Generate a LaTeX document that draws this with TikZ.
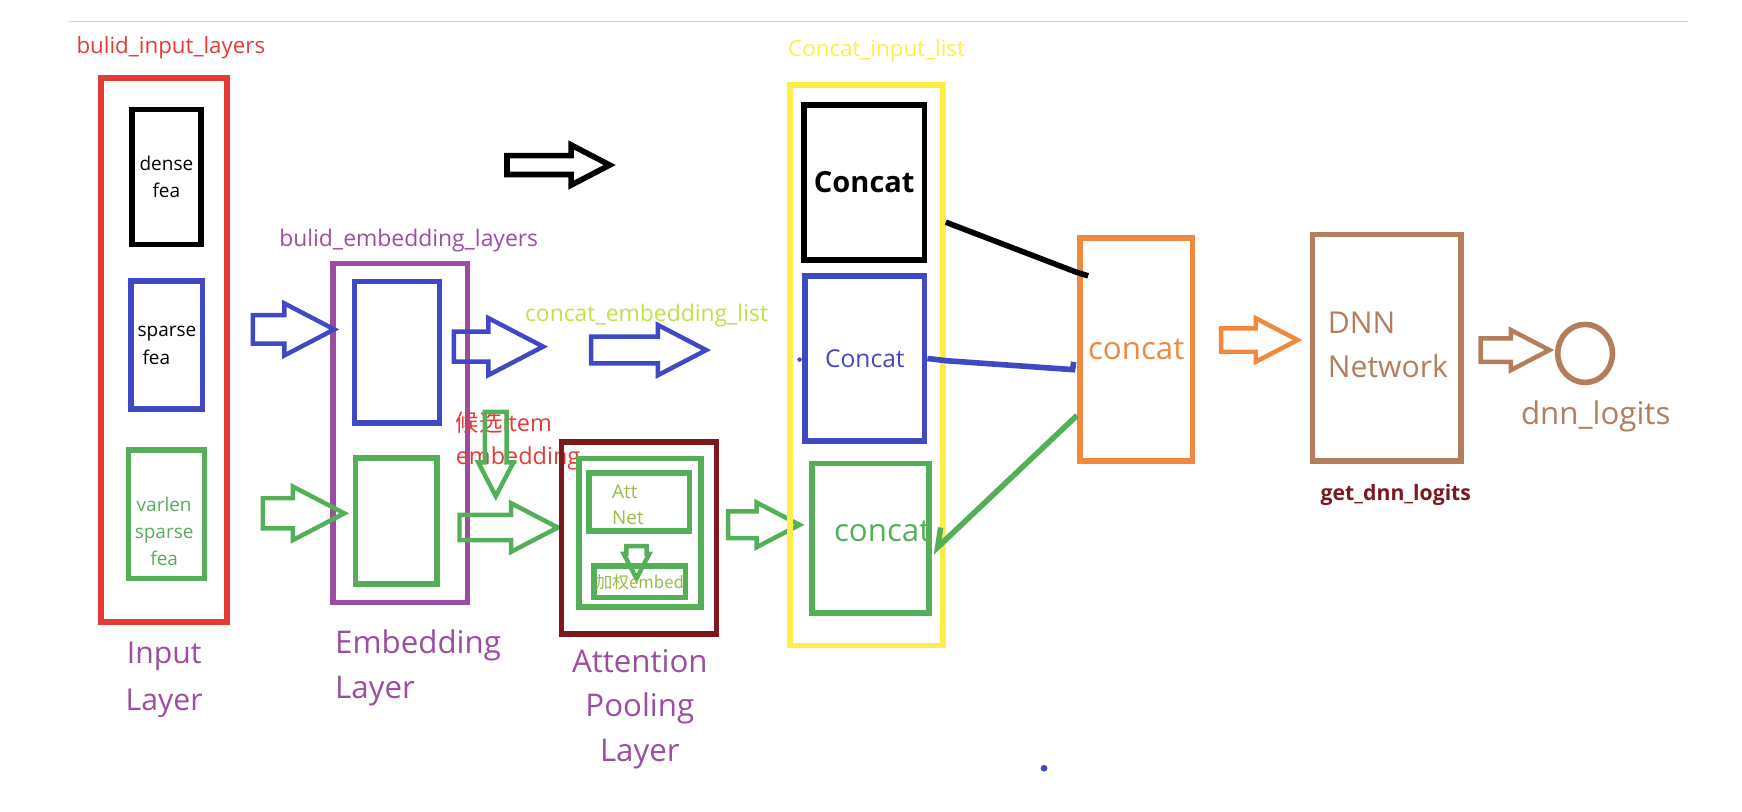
\documentclass[tikz,border=0pt]{standalone}
\usepackage{fontspec}
\setmainfont{Open Sans}
\newfontfamily\cjkfont{Noto Sans CJK SC}
\usetikzlibrary{shapes.arrows,shapes.geometric,arrows.meta}

\definecolor{inred}{RGB}{227,60,55}
\definecolor{inblue}{RGB}{64,72,196}
\definecolor{ingreen}{RGB}{84,176,88}
\definecolor{purp}{RGB}{155,78,160}
\definecolor{lime}{RGB}{190,226,70}
\definecolor{ylw}{RGB}{252,240,72}
\definecolor{dkred}{RGB}{124,24,30}
\definecolor{orng}{RGB}{240,136,62}
\definecolor{brwn}{RGB}{180,126,92}
\definecolor{attxt}{RGB}{150,190,70}
\definecolor{gline}{RGB}{206,212,228}

\begin{document}
\begin{tikzpicture}[x=1pt,y=-1pt,
  box/.style={draw=#1, line width=5pt, inner sep=0pt},
  hollow/.style={single arrow, draw=#1, line width=4pt, inner xsep=0pt, anchor=tail, single arrow tip angle=55},
  lbl/.style 2 args={inner sep=0pt, font=\fontsize{#1}{#2}\selectfont}]
\useasboundingbox (0,0) rectangle (1560,727);
\draw[gline, line width=1pt] (62,19) -- (1512,19);

% input layer
\node[lbl={20}{20}, text=inred] (tinl) at (153,43) {bulid\_input\_layers};
\node[box=inred, minimum width=113, minimum height=487] (inl) at (147,313.5) {};
\node[box=black, minimum width=62, minimum height=121, lbl={17}{24}, align=center] (dense) at (149,158.5) {dense\\fea};
\node[box=inblue, minimum width=64, minimum height=115, lbl={17}{25}, align=left] (sparse) at (149.5,309) {sparse\\\ fea};
\node[box=ingreen, minimum width=68, minimum height=115] (varlen) at (149,460.5) {};
\node[lbl={17}{24}, align=center, text=ingreen] (tvarlen) at (147,476) {varlen\\sparse\\fea};
\node[lbl={27}{42}, text=purp, align=center] (tinput) at (147,609) {Input\\Layer};

% embedding layer
\node[lbl={20.5}{20.5}, text=purp] (temb) at (366,215) {bulid\_embedding\_layers};
\node[box=purp, minimum width=120.5, minimum height=303.5] (emb) at (358.5,387.75) {};
\node[box=inblue, minimum width=76, minimum height=127] (embs) at (355.5,315.5) {};
\node[box=ingreen, minimum width=73, minimum height=113] (embv) at (355,466.5) {};
\node[lbl={28}{40}, text=purp, align=left, anchor=west] (tembl) at (300,598) {Embedding\\Layer};
\node[hollow=inblue, minimum height=73, inner ysep=10.75, single arrow head extend=10.5] (a1) at (224.4,295) {};
\node[hollow=ingreen, minimum height=73, inner ysep=11.5, single arrow head extend=10.5] (a2) at (233.3,459.7) {};
\node[hollow=inblue, minimum height=80, inner ysep=11.5, single arrow head extend=12] (a3) at (404.4,310.4) {};
\node[lbl={20.5}{20.5}, text=lime] (tcel) at (579,283) {concat\_embedding\_list};
\node[hollow=inblue, minimum height=103, inner ysep=10, single arrow head extend=10.5] (a4) at (527.4,313.5) {};
\node[hollow=black, line width=5pt, minimum height=92, inner ysep=6, single arrow head extend=9.5] (a5) at (451.5,147.8) {};

% attention pooling
\node[inner sep=0pt, text=inred, font=\fontsize{21}{30}\selectfont, align=left, anchor=west] (tcand) at (408,395) {{\cjkfont 候选}item\\embedding};
\node[hollow=ingreen, rotate=-90, minimum height=75.5, inner ysep=7.75, single arrow head extend=6] (a6) at (444,366.8) {};
\node[hollow=ingreen, minimum height=88, inner ysep=9.25, single arrow head extend=10.5] (a7) at (409.5,472.4) {};
\node[box=dkred, minimum width=138.5, minimum height=172] (att) at (572.25,482) {};
\node[box=ingreen, minimum width=109, minimum height=133] (attg) at (573,477) {};
\node[box=ingreen, minimum width=90, minimum height=52] (attnet) at (572.5,449.5) {};
\node[lbl={17}{23}, text=attxt, align=left, anchor=west] (tatt) at (548,452) {Att\\Net};
\node[hollow=ingreen, rotate=-90, minimum height=29, inner ysep=7, single arrow head extend=2.5] (a8) at (570,487) {};
\node[box=ingreen, minimum width=82, minimum height=28, text=attxt, font=\cjkfont\fontsize{15}{15}\selectfont] (wemb) at (573,521) {加权embed};
\node[lbl={28}{40}, text=purp, align=center] (tattl) at (573,635) {Attention\\Pooling\\Layer};
\node[hollow=ingreen, minimum height=64, inner ysep=10, single arrow head extend=8] (a9) at (650,470) {};

% concat input list
\node[lbl={20}{20}, text=ylw] (tcil) at (785,45) {Concat\_input\_list};
\node[box=ylw, minimum width=137, minimum height=502] (cin) at (776,327) {};
\node[box=black, minimum width=108, minimum height=139, lbl={26}{26}, font=\bfseries\fontsize{26}{26}\selectfont] (ck) at (774,163.5) {Concat};
\node[box=inblue, minimum width=107, minimum height=148, lbl={22}{22}, text=inblue] (cb) at (774.5,321) {Concat};
\node[box=ingreen, minimum width=105, minimum height=134] (cg) at (779.5,482) {};
\node[lbl={28}{28}, text=ingreen] (tcg) at (790,476) {concat};
\fill[inblue] (716,322) circle (2pt);

% concat + dnn
\node[box=orng, minimum width=101, minimum height=200, lbl={28}{28}, text=orng] (oc) at (1017.5,313) {concat};
\draw[line width=5pt] (cin.east |- 0,199) -- (oc.west |- 0,244) -- ++(10,3);
\draw[inblue, line width=5pt] (cb.east) -- (cin.east |- 0,323) -- ([xshift=-4pt]oc.west |- 0,331) -- ++(1,-7);
\draw[ingreen, line width=5pt, -{Straight Barb[right,length=14pt,width=22pt]}] (oc.west |- 0,372) -- (cg.east |- 0,495);
\node[hollow=orng, minimum height=68.5, inner ysep=8.5, single arrow head extend=9] (a10) at (1091.5,304.5) {};
\node[box=brwn, minimum width=133, minimum height=203] (dnn) at (1242,311.5) {};
\node[lbl={27}{40}, text=brwn, align=left, anchor=west] (tdnn) at (1189,309) {DNN\\Network};
\node[lbl={19}{19}, text=dkred, font=\bfseries\fontsize{19}{19}\selectfont] (tget) at (1250,443) {get\_dnn\_logits};
\node[hollow=brwn, minimum height=61.5, inner ysep=8.5, single arrow head extend=7.5] (a11) at (1324,313.5) {};
\node[ellipse, draw=brwn, line width=5pt, minimum width=49, minimum height=52, inner sep=0pt] (logit) at (1419.5,316.5) {};
\node[lbl={28}{28}, text=brwn] (tlogit) at (1429,373) {dnn\_logits};
\fill[inblue] (935,688) circle (3pt);
\end{tikzpicture}
\end{document}
